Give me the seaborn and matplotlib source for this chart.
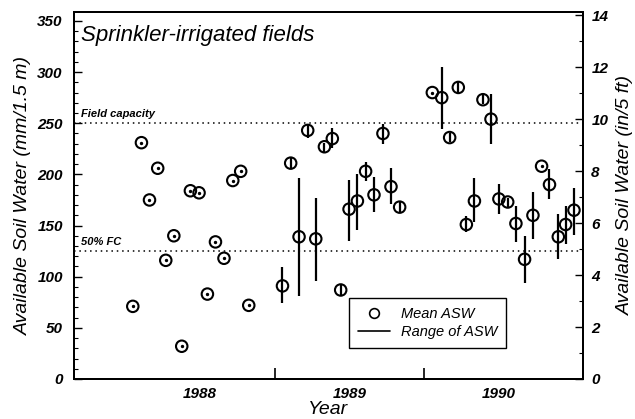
import numpy as np
import pandas as pd
import matplotlib
matplotlib.use("Agg")
import matplotlib.pyplot as plt
import seaborn as sns
from matplotlib.lines import Line2D

# Sampling dates (decimal years) and available soil water (mm / 1.5 m)
dates = [
    1988.049, 1988.107, 1988.161, 1988.216, 1988.270, 1988.324, 1988.377, 1988.435,
    1988.493, 1988.549, 1988.603, 1988.660, 1988.719, 1988.772, 1988.826,
    1989.052, 1989.107, 1989.163, 1989.221, 1989.275, 1989.333, 1989.386, 1989.442,
    1989.498, 1989.554, 1989.609, 1989.665, 1989.725, 1989.779, 1989.837,
    1990.056, 1990.119, 1990.172, 1990.230, 1990.284, 1990.338, 1990.395, 1990.449,
    1990.502, 1990.561, 1990.616, 1990.674, 1990.730, 1990.788, 1990.841, 1990.900,
    1990.949, 1991.005,
]
mean_asw = [
    71, 231, 175, 206, 116, 140, 32, 184, 182, 83, 134, 118, 194, 203, 72,
    91, 211, 139, 243, 137, 227, 235, 87, 166, 174, 203, 180, 240, 188, 168,
    280, 275, 236, 285, 151, 174, 273, 254, 176, 173, 152, 117, 160, 208, 190,
    139, 151, 165,
]
min_asw = [
    np.nan] * 15 + [
    74, 205, 81, 236, 96, 222, 226, 82, 135, 146, 194, 163, 230, 171, 163,
    np.nan, 244, 232, 280, 144, 153, 269, 230, 161, 168, 134, 94, 137, np.nan, 176,
    117, 132, 141,
]
max_asw = [
    np.nan] * 15 + [
    109, 217, 196, 249, 177, 231, 245, 92, 195, 200, 212, 197, 249, 206, 173,
    np.nan, 305, 240, 291, 159, 196, 278, 279, 191, 177, 169, 140, 183, np.nan, 205,
    161, 169, 187,
]

field_capacity = 250
half_fc = 125

df = pd.DataFrame({"date": dates, "mean": mean_asw, "lo": min_asw, "hi": max_asw})

sns.set_style("ticks")
plt.rcParams["font.family"] = ["Liberation Sans", "DejaVu Sans"]
for key in ("text.color", "axes.labelcolor", "xtick.color", "ytick.color",
            "axes.edgecolor"):
    plt.rcParams[key] = "black"

fig = plt.figure(figsize=(6.35, 4.19), dpi=100)
ax = fig.add_axes([0.1165, 0.0955, 0.8015, 0.8765])

# Range bars
rng = df.dropna(subset=["lo"])
ax.vlines(rng["date"], rng["lo"], rng["hi"], color="black", linewidth=1.6, zorder=2)

# Mean markers
sns.scatterplot(data=df, x="date", y="mean", ax=ax, marker="o", s=68,
                facecolor="none", edgecolor="black", linewidth=1.5, zorder=3,
                legend=False)
single = df[df["lo"].isna()]
ax.scatter(single["date"], single["mean"], s=2, color="black", zorder=4)

# Reference lines
ax.axhline(field_capacity, color="black", linestyle=(0, (1, 2.5)), linewidth=1.1)
ax.axhline(half_fc, color="black", linestyle=(0, (1, 2.5)), linewidth=1.1)
ax.text(1987.7, field_capacity + 4, "Field capacity", fontsize=8, fontweight="bold",
        style="italic", va="bottom")
ax.text(1987.7, half_fc + 4, "50% FC", fontsize=8, fontweight="bold",
        style="italic", va="bottom")
ax.text(1987.7, 336, "Sprinkler-irrigated fields", fontsize=16, style="italic",
        va="center")

ax.set_xlim(1987.655, 1991.065)
ax.set_ylim(0, 359)

# x ticks: marks at year boundaries, labels at mid-year
ax.set_xticks([1989, 1990])
ax.set_xticklabels(["", ""])
ax.set_xticks([1988.5, 1989.5, 1990.5], minor=True)
ax.set_xticklabels(["1988", "1989", "1990"], minor=True, fontsize=11,
                   fontweight="bold", style="italic")
ax.tick_params(axis="x", which="major", direction="in", length=8, width=1.2)
ax.tick_params(axis="x", which="minor", length=0, pad=6)

ax.set_yticks(np.arange(0, 351, 50))
ax.set_yticks(np.arange(0, 351, 10), minor=True)
ax.set_yticklabels([str(v) for v in range(0, 351, 50)], fontsize=11,
                   fontweight="bold", style="italic")
ax.tick_params(axis="y", which="major", direction="in", length=6, width=1.0, pad=8)
ax.tick_params(axis="y", which="minor", direction="in", length=3, width=0.8)

ax.set_xlabel("Year", fontsize=14, style="italic", labelpad=0)
ax.set_ylabel("Available Soil Water (mm/1.5 m)", fontsize=14, style="italic",
              labelpad=4)

# Right axis in inches per 5 ft
ax2 = ax.twinx()
ax2.set_ylim(0, 359 / 25.4)
ax2.set_yticks(np.arange(0, 15, 2))
ax2.set_yticks(np.arange(0, 15, 1), minor=True)
ax2.set_yticklabels([str(v) for v in range(0, 15, 2)], fontsize=11,
                    fontweight="bold", style="italic")
ax2.tick_params(axis="y", which="major", direction="in", length=6, width=1.0, pad=6)
ax2.tick_params(axis="y", which="minor", direction="in", length=3, width=0.8)
ax2.set_ylabel("Available Soil Water (in/5 ft)", fontsize=14, style="italic",
               labelpad=6)

for a in (ax, ax2):
    for s in a.spines.values():
        s.set_linewidth(1.4)
        s.set_visible(True)
        s.set_color("black")

handles = [
    Line2D([], [], marker="o", linestyle="none", markerfacecolor="none",
           markeredgecolor="black", markersize=7, markeredgewidth=1.2),
    Line2D([], [], color="black", linewidth=1.2),
]
leg = ax.legend(handles, ["Mean ASW", "Range of ASW"], loc="lower left",
                bbox_to_anchor=(0.54, 0.084), borderaxespad=0, frameon=True,
                fancybox=False, prop={"style": "italic", "size": 10.5},
                handlelength=2.2, borderpad=0.6, labelspacing=0.3)
leg.get_frame().set_edgecolor("black")
leg.get_frame().set_linewidth(1.0)
leg.get_frame().set_alpha(1)

fig.savefig("out.png", dpi=100)
